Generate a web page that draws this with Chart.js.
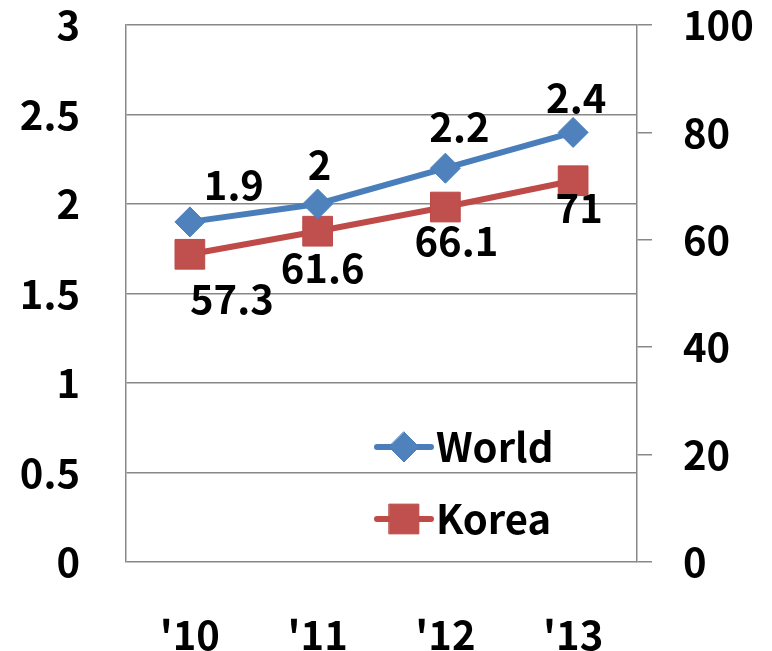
<!DOCTYPE html>
<html>
<head>
<meta charset="utf-8">
<script src="https://cdn.jsdelivr.net/npm/chart.js@4/dist/chart.umd.min.js"></script>
<style>
  html, body { margin: 0; padding: 0; background: #fff; }
  #wrap { width: 772px; height: 651px; position: relative; }
</style>
</head>
<body>
<div id="wrap"><canvas id="c" width="772" height="651"></canvas></div>
<script>
const categories = ["'10", "'11", "'12", "'13"];
const worldValues = [1.9, 2, 2.2, 2.4];
const koreaValues = [57.3, 61.6, 66.1, 71];
const worldLabels = ["1.9", "2", "2.2", "2.4"];
const koreaLabels = ["57.3", "61.6", "66.1", "71"];
const seriesNames = ["World", "Korea"];

const FONT = "'Noto Sans CJK KR', 'Noto Sans', sans-serif";
const FS = 40;
const GRID = '#888888';

// label placement offsets (pixels from point)
const labelOffsets = {
  0: [[44, -37], [2, -39], [14, -41], [3, -35]],
  1: [[42, 44], [5, 37], [11, 34], [6, 27]]
};
const labelTexts = { 0: worldLabels, 1: koreaLabels };

const dataLabelPlugin = {
  id: 'dataLabels',
  afterDatasetsDraw(chart) {
    const ctx = chart.ctx;
    ctx.save();
    ctx.font = 'bold ' + FS + 'px ' + FONT;
    ctx.fillStyle = '#000';
    ctx.textAlign = 'center';
    ctx.textBaseline = 'middle';
    chart.data.datasets.forEach((ds, di) => {
      const meta = chart.getDatasetMeta(di);
      meta.data.forEach((pt, i) => {
        const off = labelOffsets[di][i];
        ctx.fillText(labelTexts[di][i], pt.x + off[0], pt.y + off[1]);
      });
    });
    ctx.restore();
  }
};

const legendPlugin = {
  id: 'innerLegend',
  afterDatasetsDraw(chart) {
    const ctx = chart.ctx;
    const items = [
      { y: 447, ds: chart.data.datasets[0] },
      { y: 519, ds: chart.data.datasets[1] }
    ];
    ctx.save();
    items.forEach((it, idx) => {
      const x0 = 377, x1 = 431, xm = 404;
      ctx.strokeStyle = it.ds.borderColor;
      ctx.lineWidth = it.ds.borderWidth;
      ctx.lineCap = 'round';
      ctx.beginPath();
      ctx.moveTo(x0, it.y);
      ctx.lineTo(x1, it.y);
      ctx.stroke();
      ctx.fillStyle = it.ds.pointBackgroundColor;
      ctx.strokeStyle = it.ds.pointBorderColor;
      ctx.lineWidth = it.ds.pointBorderWidth;
      ctx.beginPath();
      const r = it.ds.pointRadius;
      if (it.ds.pointStyle === 'rectRot') {
        ctx.moveTo(xm, it.y - r); ctx.lineTo(xm + r, it.y); ctx.lineTo(xm, it.y + r); ctx.lineTo(xm - r, it.y); ctx.closePath();
      } else {
        const s = Math.SQRT1_2 * r;
        ctx.rect(xm - s, it.y - s, 2 * s, 2 * s);
      }
      ctx.fill();
      ctx.stroke();
      ctx.fillStyle = '#000';
      ctx.font = 'bold ' + FS + 'px ' + FONT;
      ctx.textAlign = 'left';
      ctx.textBaseline = 'middle';
      ctx.fillText(seriesNames[idx], 436, it.y);
    });
    ctx.restore();
  }
};

new Chart(document.getElementById('c'), {
  type: 'line',
  data: {
    labels: categories,
    datasets: [
      {
        label: seriesNames[0],
        data: worldValues,
        yAxisID: 'y',
        borderColor: '#4A7EBB',
        borderWidth: 6,
        pointStyle: 'rectRot',
        pointRadius: 15,
        pointHoverRadius: 15,
        pointBackgroundColor: '#4F81BD',
        pointBorderColor: '#4A7EBB',
        pointBorderWidth: 1,
        tension: 0
      },
      {
        label: seriesNames[1],
        data: koreaValues,
        yAxisID: 'y1',
        borderColor: '#BE4B48',
        borderWidth: 6,
        pointStyle: 'rect',
        pointRadius: 21,
        pointHoverRadius: 21,
        pointBackgroundColor: '#C0504D',
        pointBorderColor: '#BE4B48',
        pointBorderWidth: 1,
        tension: 0
      }
    ]
  },
  options: {
    responsive: false,
    animation: false,
    events: [],
    layout: { padding: { top: 25, left: 0, right: 0, bottom: 0 } },
    plugins: { legend: { display: false }, tooltip: { enabled: false } },
    scales: {
      x: {
        offset: true,
        grid: { display: false, drawTicks: false },
        border: { display: false },
        ticks: { color: '#000', font: { family: FONT, size: FS, weight: 'bold' }, padding: 49 },
        afterFit(s) { s.height = 89; s.paddingLeft = 0; s.paddingRight = 0; }
      },
      y: {
        position: 'left',
        min: 0, max: 3,
        ticks: { stepSize: 0.5, color: '#000', font: { family: FONT, size: FS, weight: 'bold' }, padding: 46,
          callback: v => String(v) },
        grid: { color: GRID, lineWidth: 1.5, drawTicks: false },
        border: { display: true, color: GRID, width: 1.5 },
        afterFit(s) { s.width = 126; s.paddingTop = 0; s.paddingBottom = 0; }
      },
      y1: {
        position: 'right',
        min: 0, max: 100,
        ticks: { stepSize: 20, color: '#000', font: { family: FONT, size: FS, weight: 'bold' }, padding: 31,
          callback: v => String(v) },
        grid: { drawOnChartArea: false, drawTicks: true, tickLength: 15, color: GRID, lineWidth: 1.5 },
        border: { display: true, color: GRID, width: 1.5 },
        afterFit(s) { s.width = 135; s.paddingTop = 0; s.paddingBottom = 0; }
      }
    }
  },
  plugins: [dataLabelPlugin, legendPlugin]
});
</script>
</body>
</html>
